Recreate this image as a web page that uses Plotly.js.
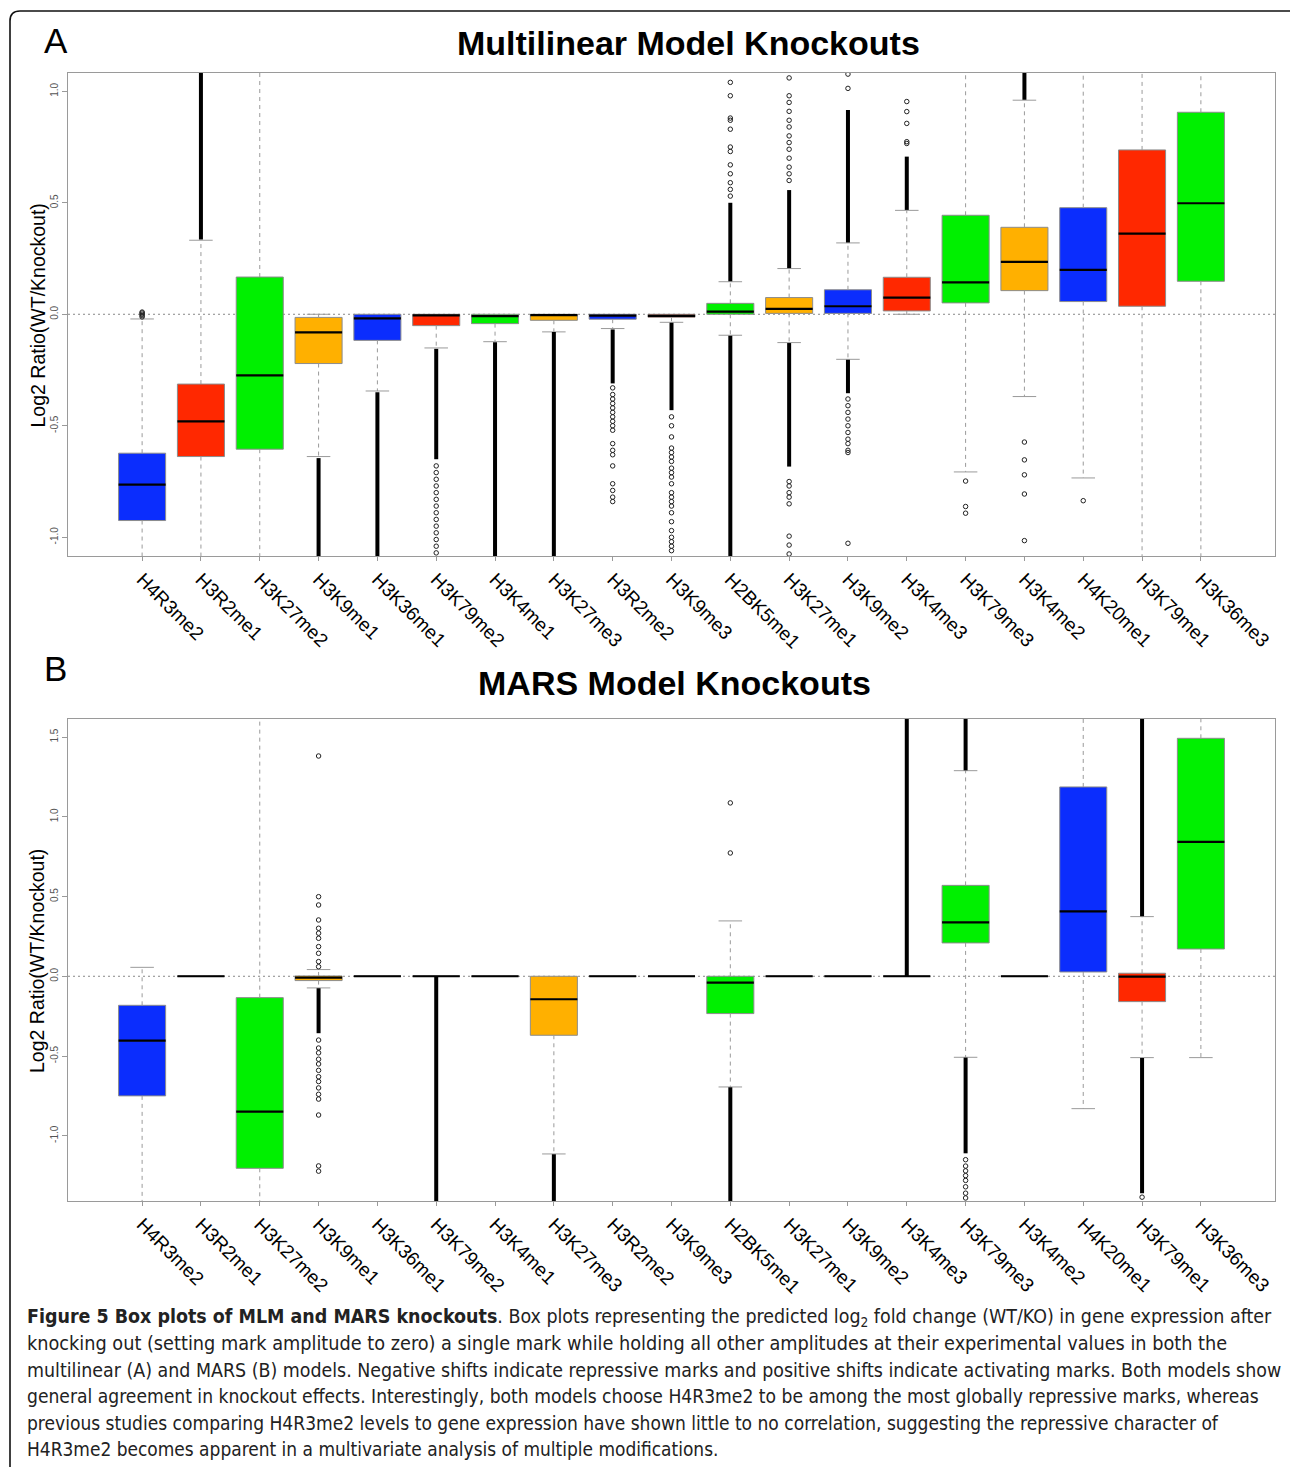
<!DOCTYPE html>
<html><head><meta charset="utf-8">
<script src="https://cdn.plot.ly/plotly-3.0.1.min.js"></script>
<style>html,body{margin:0;padding:0;background:#fff}#chart{width:1290px;height:1467px}</style>
</head><body><div id="chart"></div>
<script>
// ---------------- DATA ----------------
const categories = ["H4R3me2","H3R2me1","H3K27me2","H3K9me1","H3K36me1","H3K79me2","H3K4me1","H3K27me3","H3R2me2","H3K9me3","H2BK5me1","H3K27me1","H3K9me2","H3K4me3","H3K79me3","H3K4me2","H4K20me1","H3K79me1","H3K36me3"];
const yTicksA = [-1.0, -0.5, 0.0, 0.5, 1.0];
const yTicksB = [-1.0, -0.5, 0.0, 0.5, 1.0, 1.5];

// Panel A: Multilinear model
const aQ1     = [-0.925,-0.638,-0.605,-0.221,-0.117,-0.051,-0.042,-0.027,-0.022,-0.013, 0.000, 0.004, 0.004, 0.015, 0.051, 0.106, 0.057, 0.036, 0.148];
const aMedian = [-0.764,-0.480,-0.274,-0.081,-0.018,-0.005,-0.008,-0.004,-0.006,-0.007, 0.012, 0.024, 0.036, 0.075, 0.143, 0.235, 0.199, 0.362, 0.498];
const aQ3     = [-0.623,-0.313, 0.167,-0.014, 0.000, 0.000, 0.000, 0.000, 0.000, 0.000, 0.049, 0.075, 0.110, 0.166, 0.444, 0.390, 0.478, 0.737, 0.906];
const aLower  = [-1.200,-1.120,-1.400,-0.638,-0.344,-0.151,-0.123,-0.079,-0.064,-0.036,-0.094,-0.127,-0.202, 0.000,-0.707,-0.369,-0.734,-1.100,-1.100];
const aUpper  = [-0.021, 0.332, 1.200, 0.000, 0.000, 0.000, 0.000, 0.000, 0.000, 0.000, 0.146, 0.205, 0.320, 0.466, 1.200, 0.960, 1.200, 1.200, 1.200];
// dense outlier columns (category index, from, to)
const aStreakCat = [1, 3, 4, 5, 6, 7, 8, 9, 10, 10, 11, 11, 12, 12, 13, 15];
const aStreakLo  = [0.335,-1.100,-1.100,-0.650,-1.100,-1.100,-0.310,-0.430,-1.100, 0.148, 0.207,-0.683, 0.322,-0.354, 0.468, 0.962];
const aStreakHi  = [1.100,-0.645,-0.350,-0.155,-0.125,-0.080,-0.068,-0.038,-0.096, 0.500, 0.557,-0.129, 0.916,-0.204, 0.707, 1.100];
// individual outliers
const aOutCat = [0,0,0,0,0,
  5,5,5,5,5,5,5,5,5,5,5,5,5,5,
  8,8,8,8,8,8,8,8,8,8,8,8,8,8,8,8,8,8,
  9,9,9,9,9,9,9,9,9,9,9,9,9,9,9,9,9,9,9,9,9,9,
  10,10,10,10,10,10,10,10,10,10,10,10,
  11,11,11,11,11,11,11,11,11,11,11,11,11,11,11,11,11,11,11,11,11,
  12,12,12,12,12,12,12,12,12,12,12,12,12,
  13,13,13,13,13,
  14,14,14,
  15,15,15,15,15,
  16];
const aOutVal = [-0.012,-0.006,0.000,0.006,0.010,
  -0.68,-0.71,-0.74,-0.77,-0.80,-0.83,-0.86,-0.89,-0.92,-0.95,-0.98,-1.01,-1.04,-1.07,
  -0.33,-0.36,-0.38,-0.40,-0.42,-0.44,-0.46,-0.48,-0.50,-0.52,-0.58,-0.61,-0.63,-0.68,-0.76,-0.79,-0.82,-0.84,
  -0.46,-0.50,-0.55,-0.60,-0.62,-0.64,-0.66,-0.69,-0.71,-0.73,-0.76,-0.80,-0.82,-0.84,-0.86,-0.89,-0.93,-0.97,-1.00,-1.02,-1.04,-1.06,
  0.53,0.56,0.59,0.63,0.67,0.73,0.75,0.83,0.87,0.88,0.98,1.04,
  0.60,0.63,0.66,0.70,0.74,0.77,0.80,0.84,0.87,0.91,0.95,0.98,1.06,-0.75,-0.77,-0.80,-0.82,-0.85,-0.995,-1.035,-1.075,
  1.013,1.077,-0.38,-0.41,-0.44,-0.47,-0.50,-0.53,-0.56,-0.58,-0.61,-0.62,-1.027,
  0.766,0.774,0.856,0.909,0.954,
  -0.748,-0.862,-0.892,
  -0.573,-0.653,-0.720,-0.806,-1.015,
  -0.836];

// Panel B: MARS model
const bQ1     = [-0.750, 0, -1.204,-0.027, 0, 0, 0,-0.370, 0, 0,-0.234, 0, 0, 0, 0.209, 0, 0.027,-0.159, 0.171];
const bMedian = [-0.404, 0, -0.849,-0.008, 0, 0, 0,-0.144, 0, 0,-0.040, 0, 0, 0, 0.338, 0, 0.407,-0.002, 0.842];
const bQ3     = [-0.182, 0, -0.134, 0.002, 0, 0, 0, 0.000, 0, 0, 0.000, 0, 0, 0, 0.570, 0, 1.187, 0.019, 1.492];
const bLower  = [-1.500, 0, -1.500,-0.073, 0, 0, 0,-1.114, 0, 0,-0.694, 0, 0, 0,-0.508, 0,-0.830,-0.510,-0.510];
const bUpper  = [ 0.056, 0,  1.700, 0.042, 0, 0, 0, 0.000, 0, 0, 0.347, 0, 0, 0, 1.289, 0, 1.700, 0.374, 1.700];
const bStreakCat = [3, 5, 7, 10, 13, 14, 14, 17, 17];
const bStreakLo  = [-0.357,-1.450,-1.450,-1.450, 0.000, 1.291,-1.110,-1.360, 0.376];
const bStreakHi  = [-0.075, 0.000,-1.116,-0.696, 1.650, 1.650,-0.510,-0.512, 1.650];
const bOutCat = [3,3,3,3,3,3,3,3,3,3,3,3,3,3,3,3,3,3,3,3,3,3,3,3,3,
  10,10,
  14,14,14,14,14,14,14,14,
  17];
const bOutVal = [1.381,0.499,0.447,0.353,0.301,0.270,0.238,0.186,0.144,0.092,0.060,
  -0.40,-0.45,-0.48,-0.52,-0.55,-0.59,-0.63,-0.66,-0.70,-0.74,-0.77,-0.87,-1.189,-1.222,
  0.773,1.087,
  -1.15,-1.19,-1.22,-1.25,-1.28,-1.32,-1.36,-1.39,
  -1.385];

const caption = [
  "<b>Figure 5 Box plots of MLM and MARS knockouts</b>. Box plots representing the predicted log<sub>2</sub> fold change (WT/KO) in gene expression after",
  "knocking out (setting mark amplitude to zero) a single mark while holding all other amplitudes at their experimental values in both the",
  "multilinear (A) and MARS (B) models. Negative shifts indicate repressive marks and positive shifts indicate activating marks. Both models show",
  "general agreement in knockout effects. Interestingly, both models choose H4R3me2 to be among the most globally repressive marks, whereas",
  "previous studies comparing H4R3me2 levels to gene expression have shown little to no correlation, suggesting the repressive character of",
  "H4R3me2 becomes apparent in a multivariate analysis of multiple modifications."
];

// ---------------- STYLE ----------------
const palette = ["#0b2dfd", "#ff2800", "#00f000", "#ffb000"];
const W = 1290, H = 1467;
const px = v => v / W;
const py = v => 1 - v / H;
const FONT = "Liberation Sans, Arial, sans-serif";
const CAPFONT = "DejaVu Sans Condensed, Liberation Sans Narrow, sans-serif";
const captionY = [1317, 1343.5, 1370, 1396, 1422.5, 1449];
const captionSize = [19.45, 19.7, 19.4, 19.1, 19.05, 18.95];

function panel(xa, ya, q1, med, q3, lo, hi, sc, sl, sh, oc, ov) {
  const tr = [];
  const common = {xaxis: xa, yaxis: ya, showlegend: false, hoverinfo: "skip"};
  const wx = [], wy = [], sx = [], sy = [];
  categories.forEach((c, i) => {
    if (hi[i] > q3[i]) { wx.push(i, i, null); wy.push(q3[i], hi[i], null); }
    if (lo[i] < q1[i]) { wx.push(i, i, null); wy.push(q1[i], lo[i], null); }
    if (hi[i] !== q3[i]) { sx.push(i - 0.2, i + 0.2, null); sy.push(hi[i], hi[i], null); }
    if (lo[i] !== q1[i]) { sx.push(i - 0.2, i + 0.2, null); sy.push(lo[i], lo[i], null); }
  });
  categories.forEach((c, i) => {
    tr.push(Object.assign({
      type: "box", x: [i], q1: [q1[i]], median: [med[i]], q3: [q3[i]],
      lowerfence: [q1[i]], upperfence: [q3[i]], width: 0.8, whiskerwidth: 0,
      boxpoints: false, fillcolor: palette[i % 4], line: {color: "#8c8c8c", width: 1}
    }, common));
  });
  tr.push(Object.assign({type: "scatter", mode: "lines", x: wx, y: wy,
    line: {color: "#9a9a9a", width: 1, dash: "4px,4px"}}, common));
  tr.push(Object.assign({type: "scatter", mode: "lines", x: sx, y: sy,
    line: {color: "#9a9a9a", width: 1}}, common));
  const mx = [], my = [];
  categories.forEach((c, i) => { mx.push(i - 0.4, i + 0.4, null); my.push(med[i], med[i], null); });
  tr.push(Object.assign({type: "scatter", mode: "lines", x: mx, y: my,
    line: {color: "#000", width: 2.2}}, common));
  const kx = [], ky = [];
  sc.forEach((c, k) => { kx.push(c, c, null); ky.push(sl[k], sh[k], null); });
  tr.push(Object.assign({type: "scatter", mode: "lines", x: kx, y: ky,
    line: {color: "#000", width: 4}}, common));
  tr.push(Object.assign({type: "scatter", mode: "markers", x: oc, y: ov,
    marker: {symbol: "circle-open", size: 4.5, color: "#222", line: {width: 1}}}, common));
  return tr;
}

const data = [].concat(
  panel("x", "y", aQ1, aMedian, aQ3, aLower, aUpper, aStreakCat, aStreakLo, aStreakHi, aOutCat, aOutVal),
  panel("x2", "y2", bQ1, bMedian, bQ3, bLower, bUpper, bStreakCat, bStreakLo, bStreakHi, bOutCat, bOutVal)
);

function xAxis(anchor) {
  return {
    domain: [px(68), px(1275)], range: [-1.26, 19.26], anchor: anchor,
    tickmode: "array", tickvals: categories.map((c, i) => i), ticktext: categories,
    tickangle: 45, tickfont: {family: FONT, size: 19, color: "#000"},
    ticks: "outside", ticklen: 4, tickcolor: "#9a9a9a",
    showline: true, mirror: true, linecolor: "#9a9a9a", linewidth: 1,
    showgrid: false, zeroline: false, automargin: false
  };
}
function yAxis(anchor, top, bottom, range, ticks) {
  return {
    domain: [py(bottom), py(top)], range: range, anchor: anchor,
    tickmode: "array", tickvals: ticks, ticktext: ticks.map(v => v.toFixed(1)),
    tickangle: -90, tickfont: {family: FONT, size: 10, color: "#555"},
    ticks: "outside", ticklen: 5, tickcolor: "#9a9a9a",
    showline: true, mirror: true, linecolor: "#9a9a9a", linewidth: 1,
    showgrid: false, zeroline: false, automargin: false
  };
}

const annotations = [
  {text: "A", x: px(42), y: py(40), xanchor: "left", yanchor: "middle", font: {family: FONT, size: 35, color: "#000"}},
  {text: "B", x: px(42), y: py(668), xanchor: "left", yanchor: "middle", font: {family: FONT, size: 35, color: "#000"}},
  {text: "<b>Multilinear Model Knockouts</b>", x: px(688), y: py(43), xanchor: "center", yanchor: "middle", font: {family: FONT, size: 34, color: "#000"}},
  {text: "<b>MARS Model Knockouts</b>", x: px(674.5), y: py(683), xanchor: "center", yanchor: "middle", font: {family: FONT, size: 34, color: "#000"}},
  {text: "Log2 Ratio(WT/Knockout)", x: px(37), y: py(315.5), textangle: -90, xanchor: "center", yanchor: "middle", font: {family: FONT, size: 19.5, color: "#000"}},
  {text: "Log2 Ratio(WT/Knockout)", x: px(37), y: py(961), textangle: -90, xanchor: "center", yanchor: "middle", font: {family: FONT, size: 19.5, color: "#000"}}
].concat(caption.map((t, k) => ({
  text: t, x: px(25), y: py(captionY[k]), xanchor: "left", yanchor: "middle",
  font: {family: CAPFONT, size: captionSize[k], color: "#222"}
}))).map(a => Object.assign({xref: "paper", yref: "paper", showarrow: false}, a));

const xl = px(10), yt = py(11), rx = 10 / W, ry = 10 / H;
const shapes = [
  {type: "line", xref: "x domain", yref: "y", x0: 0, x1: 1, y0: 0, y1: 0, layer: "below", line: {color: "#888", width: 1, dash: "2px,3px"}},
  {type: "line", xref: "x2 domain", yref: "y2", x0: 0, x1: 1, y0: 0, y1: 0, layer: "below", line: {color: "#888", width: 1, dash: "2px,3px"}},
  {type: "path", xref: "paper", yref: "paper",
   path: `M ${xl},-0.05 L ${xl},${yt - ry} Q ${xl},${yt} ${xl + rx},${yt} L 1.05,${yt}`,
   line: {color: "#111", width: 1.6}}
];

const layout = {
  width: W, height: H, margin: {l: 0, r: 0, t: 0, b: 0},
  paper_bgcolor: "#fff", plot_bgcolor: "#fff",
  showlegend: false, boxmode: "overlay",
  font: {family: FONT},
  xaxis: xAxis("y"), yaxis: yAxis("x", 73, 556, [-1.084, 1.082], yTicksA),
  xaxis2: xAxis("y2"), yaxis2: yAxis("x2", 719, 1201, [-1.409, 1.613], yTicksB),
  annotations: annotations, shapes: shapes
};

Plotly.newPlot("chart", data, layout, {staticPlot: true, displayModeBar: false});
</script></body></html>
